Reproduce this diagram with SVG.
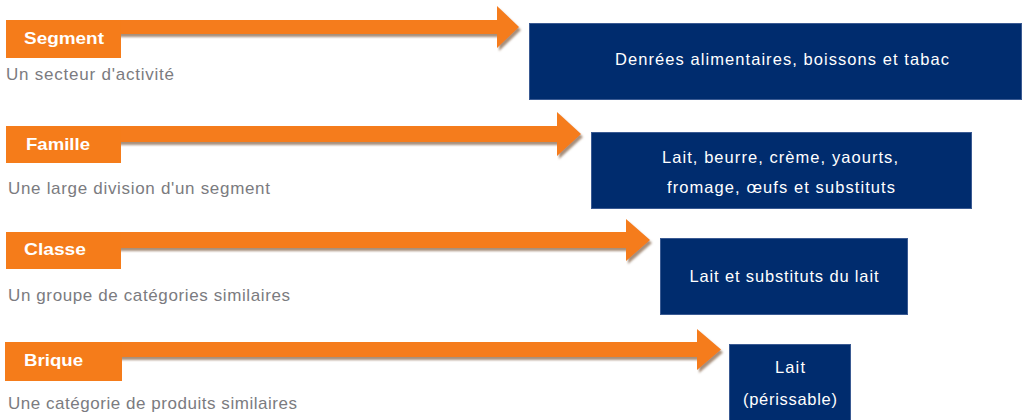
<svg xmlns="http://www.w3.org/2000/svg" width="1026" height="420" viewBox="0 0 1026 420">
<defs>
<filter id="sh" x="-5%" y="-30%" width="110%" height="180%">
<feGaussianBlur in="SourceAlpha" stdDeviation="1.2"/>
<feOffset dx="2" dy="3" result="o"/>
<feFlood flood-color="#8a6a50" flood-opacity="0.75"/>
<feComposite in2="o" operator="in"/>
<feMerge><feMergeNode/><feMergeNode in="SourceGraphic"/></feMerge>
</filter>
</defs>
<style>
.arr{fill:#F57C1A;filter:url(#sh)}
.lab{fill:#F57C1A}
.lt{font-family:"Liberation Sans",Arial,sans-serif;font-weight:bold;font-size:17px;fill:#fff}
.sub{font-family:"Liberation Sans",Arial,sans-serif;font-size:17px;fill:#7b7b80}
.box{fill:#002C6E;stroke:#3a5a92;stroke-width:1}
.bt{font-family:"Liberation Sans",Arial,sans-serif;font-size:16.5px;fill:#fff;text-anchor:middle}
</style>
<rect width="1026" height="420" fill="#fff"/>
<g id="connectors">
<path class="arr" d="M6,20 H497 V6 L519,27 L497,48 V34 H6 Z"/>
<path class="arr" d="M6,126 H557 V112 L581,134 L557,156 V142 H6 Z"/>
<path class="arr" d="M6,232 H626 V219 L650,240 L626,261 V248 H6 Z"/>
<path class="arr" d="M5,342 H697 V329 L721,349.5 L697,370 V357 H5 Z"/>
</g>
<g id="segment">
<rect class="lab" x="6" y="20" width="115" height="38"/>
<text class="lt" x="24" y="44" textLength="80" lengthAdjust="spacingAndGlyphs">Segment</text>
<text class="sub" x="6" y="80" textLength="168" lengthAdjust="spacing">Un secteur d'activité</text>
</g>
<g id="famille">
<rect class="lab" x="6" y="126" width="115" height="37"/>
<text class="lt" x="26" y="150" textLength="64" lengthAdjust="spacingAndGlyphs">Famille</text>
<text class="sub" x="8" y="194" textLength="262" lengthAdjust="spacing">Une large division d'un segment</text>
</g>
<g id="classe">
<rect class="lab" x="6" y="232" width="115" height="37"/>
<text class="lt" x="24" y="255" textLength="62" lengthAdjust="spacingAndGlyphs">Classe</text>
<text class="sub" x="8" y="301" textLength="282" lengthAdjust="spacing">Un groupe de catégories similaires</text>
</g>
<g id="brique">
<rect class="lab" x="5" y="342" width="117" height="39"/>
<text class="lt" x="24" y="366" textLength="59" lengthAdjust="spacingAndGlyphs">Brique</text>
<text class="sub" x="8" y="409" textLength="289" lengthAdjust="spacing">Une catégorie de produits similaires</text>
</g>
<g id="box-segment">
<rect class="box" x="529.5" y="23.5" width="492" height="76"/>
<text class="bt" x="782" y="65" textLength="334" lengthAdjust="spacing">Denrées alimentaires, boissons et tabac</text>
</g>
<g id="box-famille">
<rect class="box" x="591.5" y="132.5" width="380" height="76"/>
<text class="bt" x="780" y="163" textLength="236" lengthAdjust="spacing">Lait, beurre, crème, yaourts,</text>
<text class="bt" x="781" y="193" textLength="228" lengthAdjust="spacing">fromage, œufs et substituts</text>
</g>
<g id="box-classe">
<rect class="box" x="660.5" y="238.5" width="247" height="76"/>
<text class="bt" x="784" y="282" textLength="189" lengthAdjust="spacing">Lait et substituts du lait</text>
</g>
<g id="box-brique">
<rect class="box" x="729.5" y="344.5" width="121" height="80"/>
<text class="bt" x="790" y="373" textLength="30" lengthAdjust="spacing">Lait</text>
<text class="bt" x="790" y="405" textLength="94" lengthAdjust="spacing">(périssable)</text>
</g>
</svg>
